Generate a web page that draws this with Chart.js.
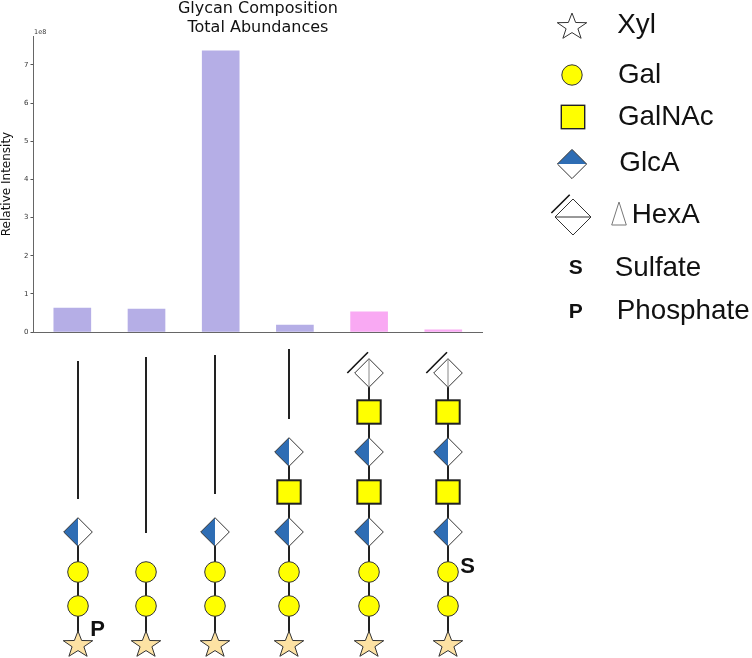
<!DOCTYPE html>
<html lang="en">
<head>
    <meta charset="UTF-8">
    <script src="https://cdn.jsdelivr.net/npm/chart.js"></script>
    <style>
        body { margin: 0; padding: 0; background: #fff; }
        canvas { position: absolute; left: 0; top: 0; }
    </style>
</head>
<body>
    <canvas id="barChart" width="516" height="658"></canvas>
    <canvas id="glycanChart" width="752" height="658"></canvas>
    <script>
        // Bar data
        const values = [0.63e8, 0.60e8, 7.37e8, 0.18e8, 0.53e8, 0.06e8];
        const barColors = ['#b5aee6', '#b5aee6', '#b5aee6', '#b5aee6', '#f9a9f3', '#f9a9f3'];
        const yTicks = [0, 1, 2, 3, 4, 5, 6, 7];
        const titleLines = ['Glycan Composition', 'Total Abundances'];

        // Residues of each glycan, read from the reducing end upwards
        const glycan1 = ['Xyl', 'Gal', 'Gal', 'GlcA'];
        const glycan2 = ['Xyl', 'Gal', 'Gal'];
        const glycan3 = ['Xyl', 'Gal', 'Gal', 'GlcA'];
        const glycan4 = ['Xyl', 'Gal', 'Gal', 'GlcA', 'GalNAc', 'GlcA'];
        const glycan5 = ['Xyl', 'Gal', 'Gal', 'GlcA', 'GalNAc', 'GlcA', 'GalNAc', 'HexA'];
        const glycan6 = ['Xyl', 'Gal', 'Gal', 'GlcA', 'GalNAc', 'GlcA', 'GalNAc', 'HexA'];
        const glycans = [glycan1, glycan2, glycan3, glycan4, glycan5, glycan6];

        const legendNames = ['Xyl', 'Gal', 'GalNAc', 'GlcA', 'HexA', 'Sulfate', 'Phosphate'];

        // Schematic layout, on the overlay chart's page-sized scales
        const columnX = [78, 146, 215, 289, 369, 448];
        const levelY = [644, 606, 572, 532, 492, 452, 412, 373];
        const spacerTop = [361, 357, 355, 349, null, null];
        const spacerBottom = [499, 533, 494, 419, null, null];
        const legendSymbolX = [572, 572, 573, 572, 573];
        const legendSymbolY = [26, 75, 117, 164, 217];
        const legendTextX = [617.3, 618, 618, 619.3, 631.7, 614.7, 616.7];
        const legendTextY = [33, 83, 125, 171, 222.5, 276, 318.5];

        const makeMarker = (size, draw) => {
            const c = document.createElement('canvas');
            c.width = size;
            c.height = size;
            const g = c.getContext('2d');
            g.translate(size / 2, size / 2);
            draw(g);
            return c;
        };

        const star = (fill) => makeMarker(40, (g) => {
            g.beginPath();
            for (let i = 0; i < 10; i++) {
                const r = i % 2 === 0 ? 15.5 : 6.2;
                const a = -Math.PI / 2 + i * Math.PI / 5;
                g.lineTo(r * Math.cos(a), r * Math.sin(a) * 0.9 + 1);
            }
            g.closePath();
            g.fillStyle = fill;
            g.fill();
            g.strokeStyle = '#333';
            g.lineWidth = 1;
            g.stroke();
        });

        const circle = (r) => makeMarker(30, (g) => {
            g.beginPath();
            g.arc(0, 0, r, 0, Math.PI * 2);
            g.fillStyle = '#ffff00';
            g.fill();
            g.strokeStyle = '#333';
            g.lineWidth = 1;
            g.stroke();
        });

        const square = (half, lw) => makeMarker(34, (g) => {
            g.fillStyle = '#ffff00';
            g.fillRect(-half, -half, half * 2, half * 2);
            g.strokeStyle = '#222';
            g.lineWidth = lw;
            g.strokeRect(-half, -half, half * 2, half * 2);
        });

        const diamondPath = (g, h) => {
            g.beginPath();
            g.moveTo(0, -h);
            g.lineTo(h, 0);
            g.lineTo(0, h);
            g.lineTo(-h, 0);
            g.closePath();
        };

        // vertical split for the chains, horizontal one in the key
        const glcA = (h, vertical) => makeMarker(36, (g) => {
            diamondPath(g, h);
            g.fillStyle = '#fff';
            g.fill();
            g.beginPath();
            if (vertical) {
                g.moveTo(0, -h);
                g.lineTo(-h, 0);
                g.lineTo(0, h);
            } else {
                g.moveTo(-h, 0);
                g.lineTo(0, -h);
                g.lineTo(h, 0);
            }
            g.closePath();
            g.fillStyle = '#2e6db4';
            g.fill();
            diamondPath(g, h);
            g.strokeStyle = '#333';
            g.lineWidth = 1;
            g.stroke();
        });

        const hexA = (h, vertical, sx1, sy1, sx2, sy2) => makeMarker(60, (g) => {
            diamondPath(g, h);
            g.fillStyle = '#fff';
            g.fill();
            g.strokeStyle = '#333';
            g.lineWidth = 1;
            g.stroke();
            g.beginPath();
            if (vertical) {
                g.moveTo(0, -h);
                g.lineTo(0, h);
                g.strokeStyle = '#888';
            } else {
                g.moveTo(-h, 0);
                g.lineTo(h, 0);
            }
            g.stroke();
            g.beginPath();
            g.moveTo(sx1, sy1);
            g.lineTo(sx2, sy2);
            g.strokeStyle = '#111';
            g.lineWidth = 1.6;
            g.stroke();
        });

        const triangle = makeMarker(30, (g) => {
            g.beginPath();
            g.moveTo(0, -12);
            g.lineTo(7.3, 11);
            g.lineTo(-7.3, 11);
            g.closePath();
            g.strokeStyle = '#777';
            g.lineWidth = 1;
            g.stroke();
        });

        const chainMarkers = {
            Xyl: star('#fde2a3'),
            Gal: circle(10.3),
            GalNAc: square(11.7, 2),
            GlcA: glcA(14.3, true),
            HexA: hexA(14.3, true, -21.7, 0, -1, -20.7)
        };
        const keyMarkers = [
            star('#ffffff'),
            circle(10.2),
            square(11.7, 1.4),
            glcA(14.6, false),
            hexA(18, false, -21.6, -4, -3.3, -22.3)
        ];

        // Points of one residue type over all columns
        const residuePoints = (name) => {
            const pts = [];
            glycans.forEach((residues, col) => {
                residues.forEach((r, level) => {
                    if (r === name) pts.push({ x: columnX[col], y: levelY[level] });
                });
            });
            return pts;
        };

        const lineDataset = (pts, width) => ({
            type: 'line',
            data: pts,
            borderColor: '#222',
            borderWidth: width,
            pointRadius: 0,
            order: 10
        });

        const datasets = [];

        // Stems
        glycans.forEach((residues, col) => {
            const top = residues.length - 1;
            datasets.push(lineDataset([
                { x: columnX[col], y: levelY[0] },
                { x: columnX[col], y: levelY[top] }
            ], 2));
            if (spacerTop[col] !== null) {
                datasets.push(lineDataset([
                    { x: columnX[col], y: spacerTop[col] },
                    { x: columnX[col], y: spacerBottom[col] }
                ], 2));
            }
        });

        // Chain residues
        Object.keys(chainMarkers).forEach((name) => {
            datasets.push({
                type: 'scatter',
                data: residuePoints(name),
                pointStyle: chainMarkers[name],
                pointRadius: 10,
                order: 1
            });
        });

        // Key symbols
        keyMarkers.forEach((marker, i) => {
            datasets.push({
                type: 'scatter',
                data: [{ x: legendSymbolX[i], y: legendSymbolY[i] }],
                pointStyle: marker,
                pointRadius: 10,
                order: 1
            });
        });
        datasets.push({
            type: 'scatter',
            data: [{ x: 619, y: 214 }],
            pointStyle: triangle,
            pointRadius: 10,
            order: 1
        });

        // Text on the overlay
        const schematicText = {
            id: 'schematicText',
            afterDatasetsDraw(chart) {
                const { ctx, scales } = chart;
                ctx.save();
                ctx.fillStyle = '#111';
                ctx.textAlign = 'left';
                ctx.textBaseline = 'alphabetic';
                ctx.font = '27.8px "Liberation Sans", Arial, sans-serif';
                legendNames.forEach((name, i) => {
                    ctx.fillText(name, scales.x.getPixelForValue(legendTextX[i]), scales.y.getPixelForValue(legendTextY[i]));
                });
                ctx.textAlign = 'center';
                ctx.textBaseline = 'middle';
                ctx.font = 'bold 21px "Liberation Sans", Arial, sans-serif';
                ctx.fillText('S', scales.x.getPixelForValue(575.7), scales.y.getPixelForValue(268));
                ctx.fillText('P', scales.x.getPixelForValue(575.7), scales.y.getPixelForValue(312));
                ctx.font = 'bold 22px "Liberation Sans", Arial, sans-serif';
                ctx.fillText('P', scales.x.getPixelForValue(97.5), scales.y.getPixelForValue(629.5));
                ctx.fillText('S', scales.x.getPixelForValue(467.7), scales.y.getPixelForValue(566.5));
                ctx.restore();
            }
        };

        new Chart(document.getElementById('glycanChart'), {
            data: { datasets: datasets },
            plugins: [schematicText],
            options: {
                responsive: false,
                animation: false,
                layout: { padding: 0, autoPadding: false },
                plugins: { legend: { display: false }, tooltip: { enabled: false } },
                scales: {
                    x: { type: 'linear', min: 0, max: 752, display: false },
                    y: { type: 'linear', min: 0, max: 658, reverse: true, display: false }
                }
            }
        });

        // Title centred over the axes, and the offset label above the y axis
        const axesText = {
            id: 'axesText',
            afterDraw(chart) {
                const { ctx, chartArea } = chart;
                const cx = (chartArea.left + chartArea.right) / 2;
                ctx.save();
                ctx.fillStyle = '#111';
                ctx.font = '16px "DejaVu Sans"';
                ctx.textAlign = 'center';
                ctx.textBaseline = 'middle';
                titleLines.forEach((line, i) => ctx.fillText(line, cx, 8.5 + i * 19));
                ctx.fillStyle = '#333';
                ctx.font = '6.5px "DejaVu Sans"';
                ctx.textAlign = 'left';
                ctx.fillText('1e8', 34, 32);
                ctx.restore();
            }
        };

        new Chart(document.getElementById('barChart'), {
            type: 'bar',
            data: {
                datasets: [{
                    data: values.map((v, i) => ({ x: i, y: v })),
                    backgroundColor: barColors,
                    barThickness: 37
                }]
            },
            plugins: [axesText],
            options: {
                responsive: false,
                animation: false,
                layout: { padding: { left: 0, right: 33.6, top: 36, bottom: 325 }, autoPadding: false },
                plugins: {
                    legend: { display: false },
                    tooltip: { enabled: false }
                },
                scales: {
                    x: {
                        type: 'linear',
                        offset: false,
                        min: -0.523,
                        max: 5.527,
                        ticks: { display: false },
                        grid: { display: false },
                        border: { color: '#666', width: 1 },
                        afterFit: (s) => { s.height = 1; }
                    },
                    y: {
                        min: 0,
                        max: 7.76e8,
                        afterFit: (s) => { s.width = 33.5; },
                        afterBuildTicks: (s) => { s.ticks = yTicks.map((t) => ({ value: t * 1e8 })); },
                        ticks: {
                            callback: (v) => v / 1e8,
                            color: '#333',
                            font: { family: '"DejaVu Sans"', size: 7 },
                            padding: 2
                        },
                        grid: { drawOnChartArea: false, tickLength: 3, color: '#555' },
                        border: { color: '#666', width: 1 },
                        title: {
                            display: true,
                            text: 'Relative Intensity',
                            color: '#111',
                            font: { family: '"DejaVu Sans"', size: 12 },
                            padding: 0
                        }
                    }
                }
            }
        });
    </script>
</body>
</html>
